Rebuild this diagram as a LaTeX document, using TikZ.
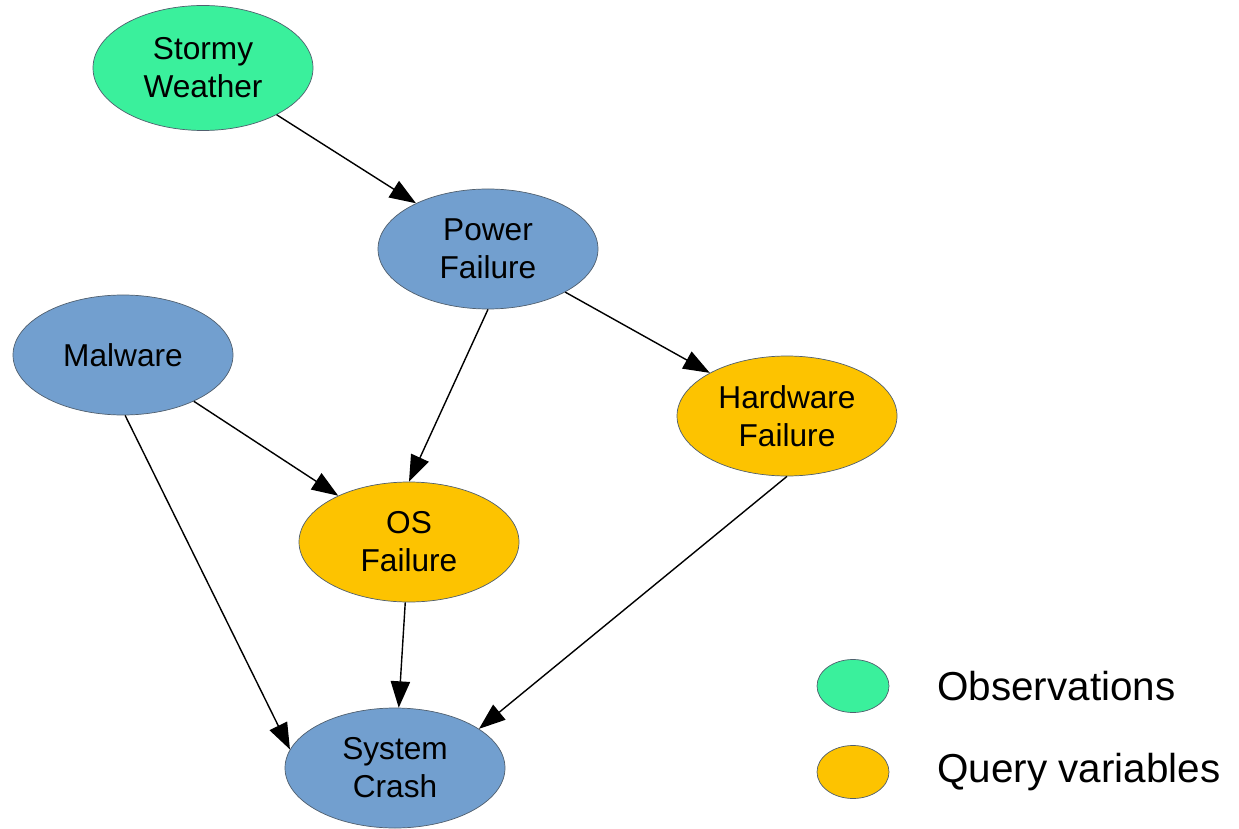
\documentclass[tikz,border=0pt]{standalone}
\usepackage{fontspec}
\setmainfont{Liberation Sans}
\usepackage{tikz}
\definecolor{seafoam}{RGB}{58,240,156}
\definecolor{skyblue}{RGB}{114,159,207}
\definecolor{amber}{RGB}{253,195,0}
\definecolor{rimgray}{RGB}{80,95,110}
\usetikzlibrary{shapes.geometric,arrows.meta}

\tikzset{
  var/.style={ellipse, draw=rimgray, line width=0.4pt, minimum width=4.4cm,
    minimum height=2.4cm, inner sep=0pt, align=center,
    font=\fontsize{18}{21.6}\selectfont},
  key/.style={ellipse, draw=rimgray, line width=0.4pt, minimum width=1.44cm,
    minimum height=1.06cm, inner sep=0pt},
  keytext/.style={anchor=west, inner sep=0pt, font=\fontsize{23}{27}\selectfont},
  link/.style={-{Triangle[length=15pt,width=11pt]}, line width=0.8pt}
}

\begin{document}
\begin{tikzpicture}
        \useasboundingbox (0,0) rectangle (24.78,-16.58);

        \node[var, fill=seafoam, minimum height=2.5cm] (storm) at (4.06,-1.36) {Stormy\\Weather} ;
        \node[var, fill=skyblue] (power) at (9.76,-4.98) {Power\\Failure} ;
        \node[var, fill=skyblue] (malware) at (2.46,-7.10) {Malware} ;
        \node[var, fill=amber] (hw) at (15.74,-8.32) {Hardware\\Failure} ;
        \node[var, fill=amber] (os) at (8.18,-10.84) {OS\\Failure} ;
        \node[var, fill=skyblue] (crash) at (7.90,-15.36) {System\\Crash} ;

        % legend
        \node[key, fill=seafoam] (kobs) at (17.06,-13.72) {} ;
        \node[key, fill=amber] (kquery) at (17.06,-15.44) {} ;
        \node[keytext] (tobs) at (18.74,-13.72) {Observations} ;
        \node[keytext] (tquery) at (18.74,-15.44) {Query variables} ;

        \draw[link] (storm) -- (power);
        \draw[link] (power.south) -- (os.north);
        \draw[link] (power) -- (hw);
        \draw[link] (malware) -- (os);
        \draw[link] (malware.272) -- (crash.170);
        \draw[link] (os) -- (crash);
        \draw[link] (hw.south) -- (crash.25);
    \end{tikzpicture}
\end{document}
